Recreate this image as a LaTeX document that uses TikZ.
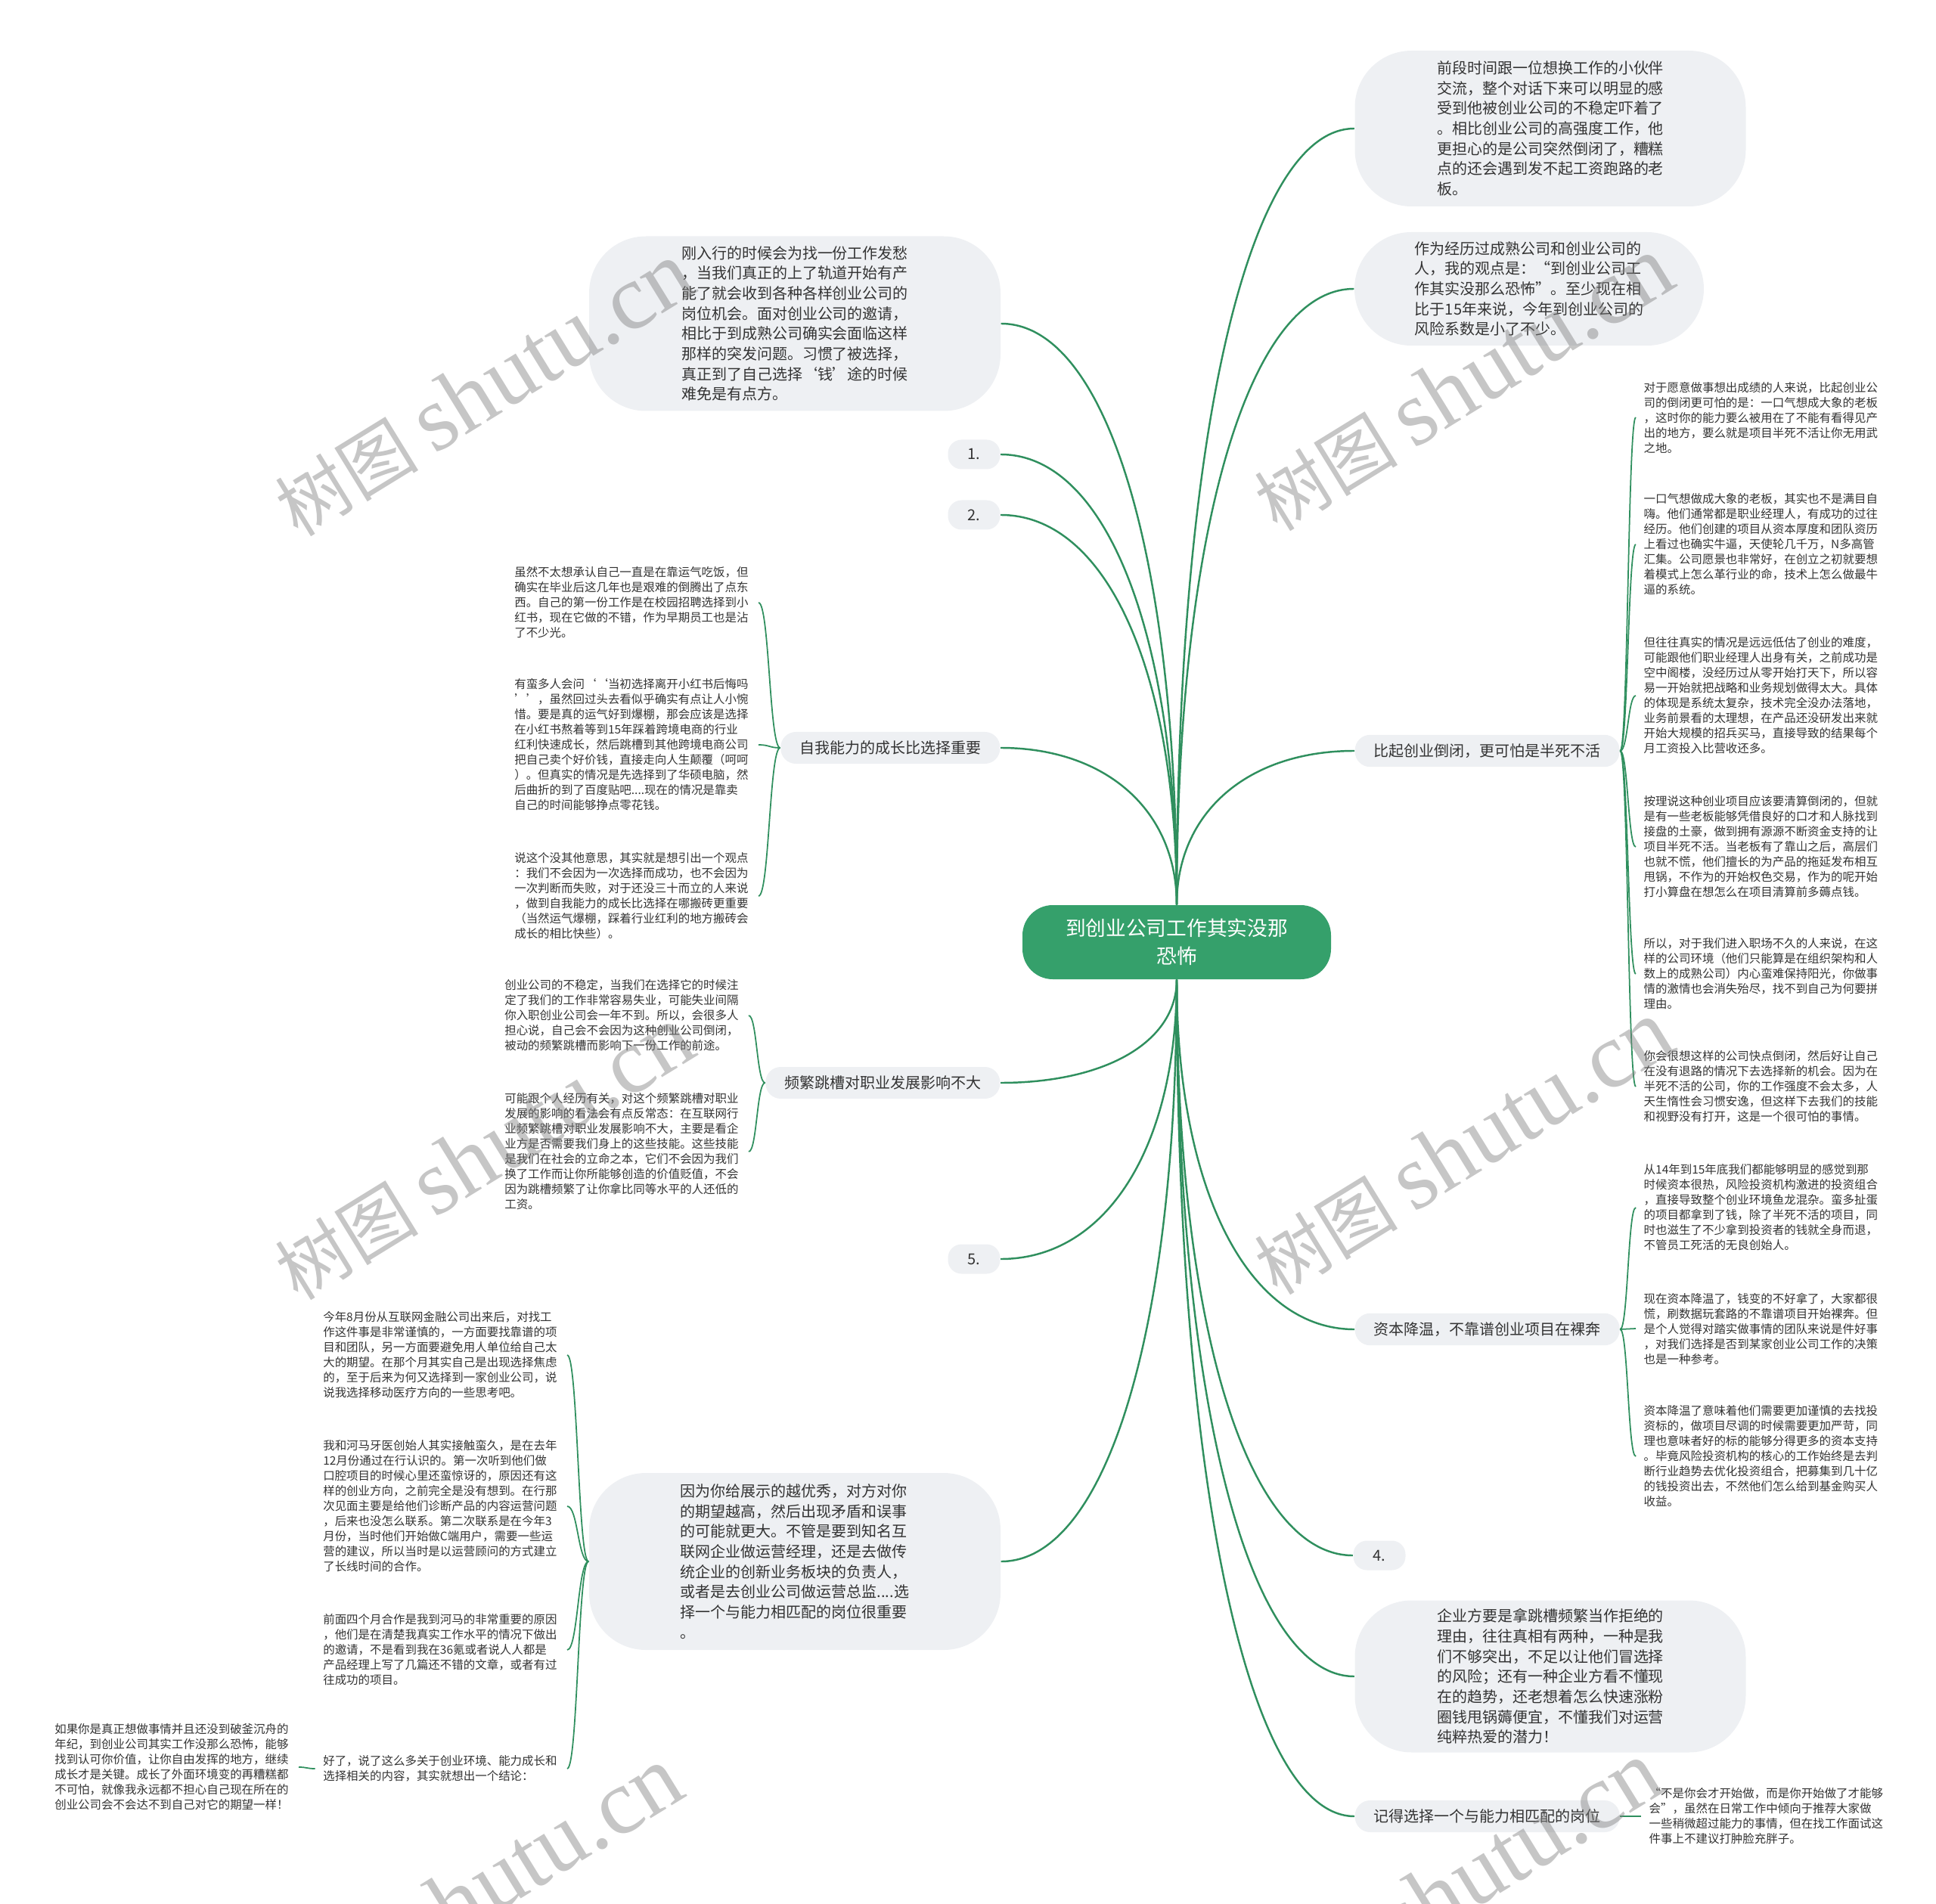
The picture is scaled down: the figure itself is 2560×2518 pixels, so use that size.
\documentclass[tikz,border=0pt]{standalone}
\usepackage{fontspec}
\setmainfont{Noto Sans CJK SC}
\newfontfamily\wmfont{Liberation Serif}
\usetikzlibrary{calc}
\definecolor{linkgreen}{HTML}{2F8F5E}
\definecolor{ctrgreen}{HTML}{35A06B}
\definecolor{bubble}{HTML}{EEF0F3}
\definecolor{txt}{HTML}{333333}
\newcommand\leafsize{\fontsize{4.4pt}{5.69pt}\selectfont}
\newcommand\midsize{\fontsize{5.69pt}{7.59pt}\selectfont}
\newcommand\ctrsize{\fontsize{7.6pt}{10.6pt}\selectfont}

\begin{document}
\begin{tikzpicture}[
    x=.1mm,y=-.1mm,
    ctr/.style={fill=ctrgreen,text=white,font=\ctrsize,align=center,rounded corners=4mm,minimum width=40.8mm,minimum height=9.8mm,inner sep=0pt},
    bub/.style={fill=bubble,text=txt,font=\midsize,align=left,rounded corners=7.5mm,inner sep=0pt},
    lab/.style={fill=bubble,text=txt,font=\midsize,rounded corners=2mm,inner xsep=2.5mm,minimum height=4mm},
    pill/.style={fill=bubble,text=txt,font=\midsize,rounded corners=1.8mm,minimum width=6.9mm,minimum height=3.9mm,inner sep=0pt},
    leafR/.style={text=txt,font=\leafsize,align=left,text width=31.2mm,inner xsep=1mm,inner ysep=0pt,anchor=west},
    leafL/.style={leafR,anchor=east},
    link/.style={linkgreen,line width=.7pt},
    twig/.style={linkgreen,line width=.5pt},
    wm/.style={text=black!50,opacity=.45,font=\fontsize{27pt}{30pt}\selectfont,rotate=31.6,inner sep=0pt}
  ]
    \useasboundingbox (0,0) rectangle (2560,2518);
    \clip (0,0) rectangle (2560,2518);

    \node[ctr] (ctr) at (1556,1246) {到创业公司工作其实没那\\恐怖};

    \node[bub,minimum width=51.7mm,minimum height=20.6mm] (r1) at (2050,170) {前段时间跟一位想换工作的小伙伴\\交流，整个对话下来可以明显的感\\受到他被创业公司的不稳定吓着了\\。相比创业公司的高强度工作，他\\更担心的是公司突然倒闭了，糟糕\\点的还会遇到发不起工资跑路的老\\板。};
    \node[bub,minimum width=46.2mm,minimum height=15mm] (r2) at (2022,382) {作为经历过成熟公司和创业公司的\\人，我的观点是：“到创业公司工\\作其实没那么恐怖”。至少现在相\\比于15年来说，今年到创业公司的\\风险系数是小了不少。};
    \node[lab,anchor=west] (r3) at (1791,993) {比起创业倒闭，更可怕是半死不活};
    \node[lab,anchor=west] (r4) at (1791,1758) {资本降温，不靠谱创业项目在裸奔};
    \node[pill] (r5) at (1824,2057) {4.};
    \node[bub,minimum width=51.7mm,minimum height=20.1mm] (r6) at (2050,2217) {企业方要是拿跳槽频繁当作拒绝的\\理由，往往真相有两种，一种是我\\们不够突出，不足以让他们冒选择\\的风险；还有一种企业方看不懂现\\在的趋势，还老想着怎么快速涨粉\\圈钱甩锅薅便宜，不懂我们对运营\\纯粹热爱的潜力！};
    \node[lab,anchor=west] (r7) at (1791,2402) {记得选择一个与能力相匹配的岗位};

    \node[bub,minimum width=54.4mm,minimum height=23.1mm] (l1) at (1051,428) {刚入行的时候会为找一份工作发愁\\，当我们真正的上了轨道开始有产\\能了就会收到各种各样创业公司的\\岗位机会。面对创业公司的邀请，\\相比于到成熟公司确实会面临这样\\那样的突发问题。习惯了被选择，\\真正到了自己选择‘钱’途的时候\\难免是有点方。};
    \node[pill] (l2) at (1288,601) {1.};
    \node[pill] (l3) at (1288,681) {2.};
    \node[lab,anchor=east] (l4) at (1323,989) {自我能力的成长比选择重要};
    \node[lab,anchor=east] (l5) at (1323,1432) {频繁跳槽对职业发展影响不大};
    \node[pill] (l6) at (1288,1665) {5.};
    \node[bub,minimum width=54.4mm,minimum height=23.4mm] (l7) at (1051,2065) {因为你给展示的越优秀，对方对你\\的期望越高，然后出现矛盾和误事\\的可能就更大。不管是要到知名互\\联网企业做运营经理，还是去做传\\统企业的创新业务板块的负责人，\\或者是去创业公司做运营总监....选\\择一个与能力相匹配的岗位很重要\\。};

    \node[leafR] (r3a) at (2163,552) {对于愿意做事想出成绩的人来说，比起创业公\\司的倒闭更可怕的是：一口气想成大象的老板\\，这时你的能力要么被用在了不能有看得见产\\出的地方，要么就是项目半死不活让你无用武\\之地。};
    \node[leafR] (r3b) at (2163,720) {一口气想做成大象的老板，其实也不是满目自\\嗨。他们通常都是职业经理人，有成功的过往\\经历。他们创建的项目从资本厚度和团队资历\\上看过也确实牛逼，天使轮几千万，N多高管\\汇集。公司愿景也非常好，在创立之初就要想\\着模式上怎么革行业的命，技术上怎么做最牛\\逼的系统。};
    \node[leafR] (r3c) at (2163,920) {但往往真实的情况是远远低估了创业的难度，\\可能跟他们职业经理人出身有关，之前成功是\\空中阁楼，没经历过从零开始打天下，所以容\\易一开始就把战略和业务规划做得太大。具体\\的体现是系统太复杂，技术完全没办法落地，\\业务前景看的太理想，在产品还没研发出来就\\开始大规模的招兵买马，直接导致的结果每个\\月工资投入比营收还多。};
    \node[leafR] (r3d) at (2163,1120) {按理说这种创业项目应该要清算倒闭的，但就\\是有一些老板能够凭借良好的口才和人脉找到\\接盘的土豪，做到拥有源源不断资金支持的让\\项目半死不活。当老板有了靠山之后，高层们\\也就不慌，他们擅长的为产品的拖延发布相互\\甩锅，不作为的开始权色交易，作为的呢开始\\打小算盘在想怎么在项目清算前多薅点钱。};
    \node[leafR] (r3e) at (2163,1288) {所以，对于我们进入职场不久的人来说，在这\\样的公司环境（他们只能算是在组织架构和人\\数上的成熟公司）内心蛮难保持阳光，你做事\\情的激情也会消失殆尽，找不到自己为何要拼\\理由。};
    \node[leafR] (r3f) at (2163,1437) {你会很想这样的公司快点倒闭，然后好让自己\\在没有退路的情况下去选择新的机会。因为在\\半死不活的公司，你的工作强度不会太多，人\\天生惰性会习惯安逸，但这样下去我们的技能\\和视野没有打开，这是一个很可怕的事情。};

    \node[leafR] (r4a) at (2163,1597) {从14年到15年底我们都能够明显的感觉到那\\时候资本很热，风险投资机构激进的投资组合\\，直接导致整个创业环境鱼龙混杂。蛮多扯蛋\\的项目都拿到了钱，除了半死不活的项目，同\\时也滋生了不少拿到投资者的钱就全身而退，\\不管员工死活的无良创始人。};
    \node[leafR] (r4b) at (2163,1757) {现在资本降温了，钱变的不好拿了，大家都很\\慌，刷数据玩套路的不靠谱项目开始裸奔。但\\是个人觉得对踏实做事情的团队来说是件好事\\，对我们选择是否到某家创业公司工作的决策\\也是一种参考。};
    \node[leafR] (r4c) at (2163,1926) {资本降温了意味着他们需要更加谨慎的去找投\\资标的，做项目尽调的时候需要更加严苛，同\\理也意味者好的标的能够分得更多的资本支持\\。毕竟风险投资机构的核心的工作始终是去判\\断行业趋势去优化投资组合，把募集到几十亿\\的钱投资出去，不然他们怎么给到基金购买人\\收益。};

    \node[leafR] (r7a) at (2170,2402) {“不是你会才开始做，而是你开始做了才能够\\会”，虽然在日常工作中倾向于推荐大家做\\一些稍微超过能力的事情，但在找工作面试这\\件事上不建议打肿脸充胖子。};

    \node[leafL] (l4a) at (1003,797) {虽然不太想承认自己一直是在靠运气吃饭，但\\确实在毕业后这几年也是艰难的倒腾出了点东\\西。自己的第一份工作是在校园招聘选择到小\\红书，现在它做的不错，作为早期员工也是沾\\了不少光。};
    \node[leafL] (l4b) at (1003,985) {有蛮多人会问‘‘当初选择离开小红书后悔吗\\’’，虽然回过头去看似乎确实有点让人小惋\\惜。要是真的运气好到爆棚，那会应该是选择\\在小红书熬着等到15年踩着跨境电商的行业\\红利快速成长，然后跳槽到其他跨境电商公司\\把自己卖个好价钱，直接走向人生颠覆（呵呵\\）。但真实的情况是先选择到了华硕电脑，然\\后曲折的到了百度贴吧....现在的情况是靠卖\\自己的时间能够挣点零花钱。};
    \node[leafL] (l4c) at (1003,1185) {说这个没其他意思，其实就是想引出一个观点\\：我们不会因为一次选择而成功，也不会因为\\一次判断而失败，对于还没三十而立的人来说\\，做到自我能力的成长比选择在哪搬砖更重要\\（当然运气爆棚，踩着行业红利的地方搬砖会\\成长的相比快些）。};

    \node[leafL] (l5a) at (990,1343) {创业公司的不稳定，当我们在选择它的时候注\\定了我们的工作非常容易失业，可能失业间隔\\你入职创业公司会一年不到。所以，会很多人\\担心说，自己会不会因为这种创业公司倒闭，\\被动的频繁跳槽而影响下一份工作的前途。};
    \node[leafL] (l5b) at (990,1523) {可能跟个人经历有关，对这个频繁跳槽对职业\\发展的影响的看法会有点反常态：在互联网行\\业频繁跳槽对职业发展影响不大，主要是看企\\业方是否需要我们身上的这些技能。这些技能\\是我们在社会的立命之本，它们不会因为我们\\换了工作而让你所能够创造的价值贬值，不会\\因为跳槽频繁了让你拿比同等水平的人还低的\\工资。};

    \node[leafL] (l7a) at (750,1792) {今年8月份从互联网金融公司出来后，对找工\\作这件事是非常谨慎的，一方面要找靠谱的项\\目和团队，另一方面要避免用人单位给自己太\\大的期望。在那个月其实自己是出现选择焦虑\\的，至于后来为何又选择到一家创业公司，说\\说我选择移动医疗方向的一些思考吧。};
    \node[leafL] (l7b) at (750,1992) {我和河马牙医创始人其实接触蛮久，是在去年\\12月份通过在行认识的。第一次听到他们做\\口腔项目的时候心里还蛮惊讶的，原因还有这\\样的创业方向，之前完全是没有想到。在行那\\次见面主要是给他们诊断产品的内容运营问题\\，后来也没怎么联系。第二次联系是在今年3\\月份，当时他们开始做C端用户，需要一些运\\营的建议，所以当时是以运营顾问的方式建立\\了长线时间的合作。};
    \node[leafL] (l7c) at (750,2182) {前面四个月合作是我到河马的非常重要的原因\\，他们是在清楚我真实工作水平的情况下做出\\的邀请，不是看到我在36氪或者说人人都是\\产品经理上写了几篇还不错的文章，或者有过\\往成功的项目。};
    \node[leafL] (l7d) at (750,2339) {好了，说了这么多关于创业环境、能力成长和\\选择相关的内容，其实就想出一个结论：};
    \node[leafL] (l7e) at (395,2337) {如果你是真正想做事情并且还没到破釜沉舟的\\年纪，到创业公司其实工作没那么恐怖，能够\\找到认可你价值，让你自由发挥的地方，继续\\成长才是关键。成长了外面环境变的再糟糕都\\不可怕，就像我永远都不担心自己现在所在的\\创业公司会不会达不到自己对它的期望一样！};

    \foreach \t in {r1,r2,r3} {\draw[link] (ctr.north) .. controls ($(ctr.north)!.6!(ctr.north|-\t.west)$) and ($(\t.west)!.6!(ctr.north|-\t.west)$) .. (\t.west);}
    \foreach \t in {l1,l2,l3,l4} {\draw[link] (ctr.north) .. controls ($(ctr.north)!.6!(ctr.north|-\t.east)$) and ($(\t.east)!.6!(ctr.north|-\t.east)$) .. (\t.east);}
    \foreach \t in {r4,r5,r6,r7} {\draw[link] (ctr.south) .. controls ($(ctr.south)!.6!(ctr.south|-\t.west)$) and ($(\t.west)!.6!(ctr.south|-\t.west)$) .. (\t.west);}
    \foreach \t in {l5,l6,l7} {\draw[link] (ctr.south) .. controls ($(ctr.south)!.6!(ctr.south|-\t.east)$) and ($(\t.east)!.6!(ctr.south|-\t.east)$) .. (\t.east);}

    \foreach \p/\t in {r3/r3a,r3/r3b,r3/r3c,r3/r3d,r3/r3e,r3/r3f,r4/r4a,r4/r4b,r4/r4c,r7/r7a} {\draw[twig] (\p.east) .. controls ($(\p.east)!.5!(\p.east-|\t.west)$) and ($(\t.west)!.5!(\t.west-|\p.east)$) .. (\t.west);}
    \foreach \p/\t in {l4/l4a,l4/l4b,l4/l4c,l5/l5a,l5/l5b,l7/l7a,l7/l7b,l7/l7c,l7/l7d,l7d/l7e} {\draw[twig] (\p.west) .. controls ($(\p.west)!.5!(\p.west-|\t.east)$) and ($(\t.east)!.5!(\t.east-|\p.west)$) .. (\t.east);}

    \node[wm] (wm1) at (640,515) {树图 {\wmfont\fontsize{35pt}{38pt}\selectfont shutu.cn}};
    \node[wm] (wm2) at (1935,508) {树图 {\wmfont\fontsize{35pt}{38pt}\selectfont shutu.cn}};
    \node[wm] (wm3) at (640,1525) {树图 {\wmfont\fontsize{35pt}{38pt}\selectfont shutu.cn}};
    \node[wm] (wm4) at (1935,1518) {树图 {\wmfont\fontsize{35pt}{38pt}\selectfont shutu.cn}};
    \node[wm] (wm5) at (625,2505) {树图 {\wmfont\fontsize{35pt}{38pt}\selectfont shutu.cn}};
    \node[wm] (wm6) at (1920,2498) {树图 {\wmfont\fontsize{35pt}{38pt}\selectfont shutu.cn}};
  \end{tikzpicture}
\end{document}
